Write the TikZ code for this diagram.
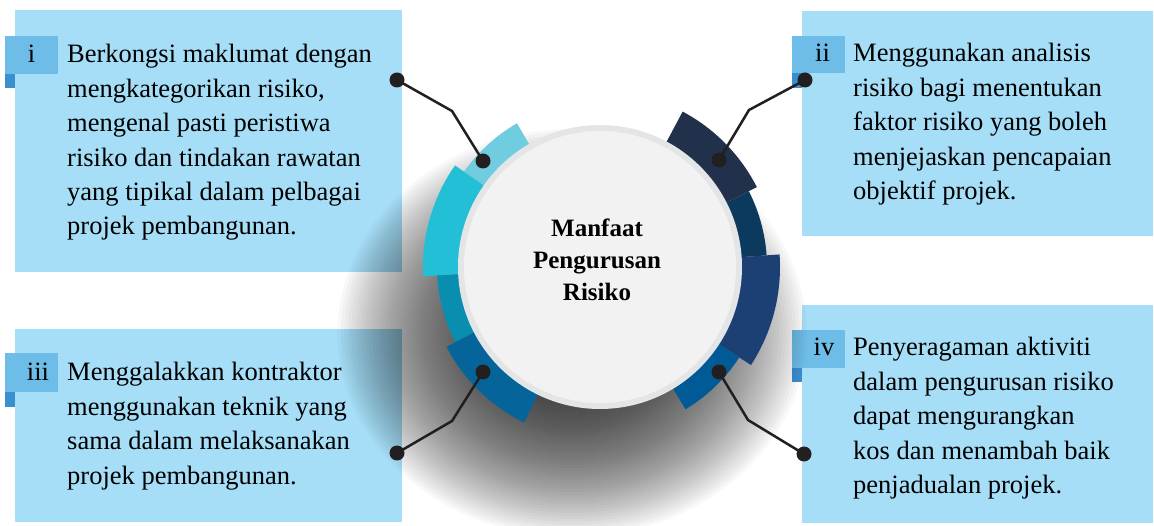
\documentclass[tikz,border=0pt]{standalone}
\usepackage{fontspec}
\setmainfont{Liberation Serif}
\definecolor{boxblue}{HTML}{A6DEF7}
\definecolor{tabblue}{HTML}{6EBDE8}
\definecolor{tabdark}{HTML}{3A8FCE}
\definecolor{ink}{HTML}{231F20}
\definecolor{discrim}{HTML}{E4E5E6}
\definecolor{discface}{HTML}{F2F2F2}
\definecolor{segA}{HTML}{70CDDF}
\definecolor{segB}{HTML}{22BFD7}
\definecolor{segC}{HTML}{0A8EB0}
\definecolor{segD}{HTML}{05659B}
\definecolor{segE}{HTML}{21314C}
\definecolor{segF}{HTML}{0C3A5E}
\definecolor{segG}{HTML}{1C3F74}
\definecolor{segH}{HTML}{005A95}
% annular sector: colour, start angle, end angle, outer radius
\newcommand\ringseg[4]{\fill[#1] (#2:130pt) arc[start angle=#2, end angle=#3, radius=130pt] -- (#3:#4pt) arc[start angle=#3, end angle=#2, radius=#4pt] -- cycle;}
\begin{document}
\begin{tikzpicture}[x=1pt,y=1pt,
  panel/.style={fill=boxblue},
  tab/.style={fill=tabblue},
  tabfold/.style={fill=tabdark},
  bodytext/.style={anchor=base west, inner sep=0pt, text=black},
  numtext/.style={anchor=base, inner sep=0pt, text=black, font=\fontsize{26.5}{34.4}\selectfont},
  dot/.style={circle, fill=ink, inner sep=0pt, minimum size=15pt},
  link/.style={draw=ink, line width=2.5pt, line join=miter}
]
\useasboundingbox (0,0) rectangle (1154,525);

% panels
\fill[panel] (15,253) rectangle (402,515);
\fill[panel] (802,289) rectangle (1153,514);
\fill[panel] (15,3) rectangle (402,196);
\fill[panel] (802,2) rectangle (1153,220);

% number tabs
\fill[tab] (5,451) rectangle (58,489);
\fill[tabfold] (5,437) rectangle (15,451);
\fill[tab] (792,452) rectangle (845,489);
\fill[tabfold] (792,437) rectangle (802,452);
\fill[tab] (5,133) rectangle (58,172);
\fill[tabfold] (5,118) rectangle (15,133);
\fill[tab] (792,157) rectangle (845,195);
\fill[tabfold] (792,143) rectangle (802,157);

\node[numtext] (n1) at (31.5,462) {i};
\node[numtext] (n2) at (822.5,463) {ii};
\node[numtext] (n3) at (38,144) {iii};
\node[numtext] (n4) at (824,169) {iv};

\node[bodytext] (t1) at (67,462) {\parbox[t]{330pt}{\raggedright\fontsize{26.5}{34.4}\selectfont
Berkongsi maklumat dengan\\
mengkategorikan risiko,\\
mengenal pasti peristiwa\\
risiko dan tindakan rawatan\\
yang tipikal dalam pelbagai\\
projek pembangunan.}};
\node[bodytext] (t2) at (853,463) {\parbox[t]{300pt}{\raggedright\fontsize{26.5}{34.4}\selectfont
Menggunakan analisis\\
risiko bagi menentukan\\
faktor risiko yang boleh\\
menjejaskan pencapaian\\
objektif projek.}};
\node[bodytext] (t3) at (67,144) {\parbox[t]{330pt}{\raggedright\fontsize{26.5}{34.4}\selectfont
Menggalakkan kontraktor\\
menggunakan teknik yang\\
sama dalam melaksanakan\\
projek pembangunan.}};
\node[bodytext] (t4) at (853,169) {\parbox[t]{300pt}{\raggedright\fontsize{26.5}{34.4}\selectfont
Penyeragaman aktiviti\\
dalam pengurusan risiko\\
dapat mengurangkan\\
kos dan menambah baik\\
penjadualan projek.}};

% soft drop shadow falling below the wheel
\foreach \r in {60,63,...,206}
  \fill[black, opacity=0.028] (572,192) ellipse[x radius={1.15*\r}, y radius={\r}];

% coloured ring around the disc
\begin{scope}[shift={(600,258)}]
  \ringseg{segA}{120}{145}{166}
  \ringseg{segB}{145}{183}{177}
  \ringseg{segC}{183}{207.5}{163}
  \ringseg{segD}{207.5}{244}{173}
  \ringseg{segE}{27}{62}{176}
  \ringseg{segF}{4}{27}{167}
  \ringseg{segG}{-33}{4}{180}
  \ringseg{segH}{-59}{-33}{166}
  \fill[discrim] (0,0) circle[radius=142pt];
  \fill[discface] (0,0) circle[radius=136pt];
\end{scope}

\node[inner sep=0pt, anchor=base] (title) at (597,288) {\parbox[t]{220pt}{\centering\fontsize{25}{32}\selectfont\bfseries
Manfaat\\ Pengurusan\\ Risiko}};

% connectors
\node[dot] (o1) at (397,445) {};
\coordinate (e1) at (452,414);
\node[dot] (i1) at (483,364) {};
\draw[link] (o1.center) -- (e1) -- (i1.center);

\node[dot] (o2) at (805,445) {};
\coordinate (e2) at (749,415);
\node[dot] (i2) at (719,365) {};
\draw[link] (o2.center) -- (e2) -- (i2.center);

\node[dot] (i3) at (483,153) {};
\coordinate (e3) at (452,104);
\node[dot] (o3) at (397,72) {};
\draw[link] (i3.center) -- (e3) -- (o3.center);

\node[dot] (i4) at (719,153) {};
\coordinate (e4) at (748,105);
\node[dot] (o4) at (804,71) {};
\draw[link] (i4.center) -- (e4) -- (o4.center);
\end{tikzpicture}
\end{document}
